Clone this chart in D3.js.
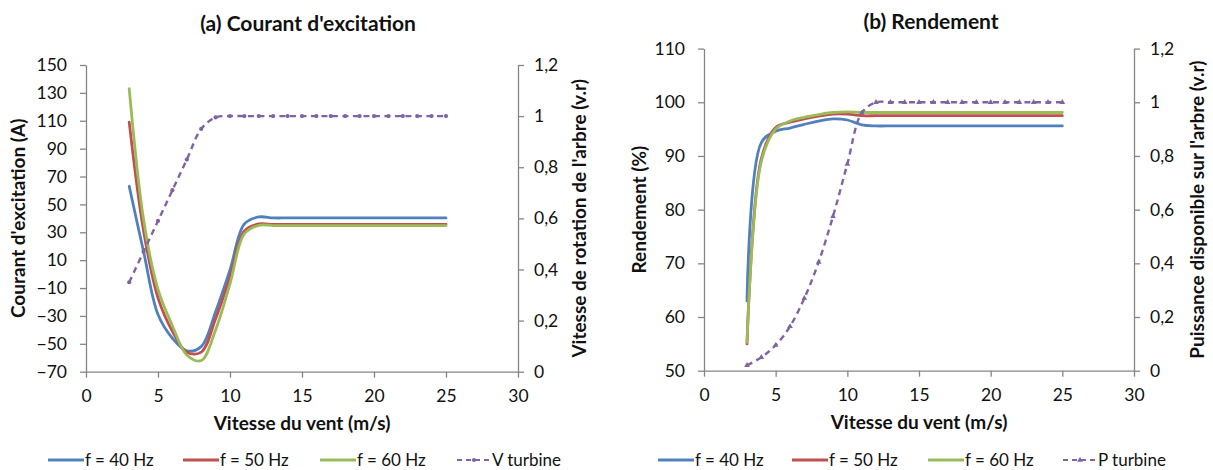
<!DOCTYPE html>
<html>
<head>
<meta charset="utf-8">
<script src="https://cdn.jsdelivr.net/npm/d3@7"></script>
<style>
  body { margin: 0; background: #ffffff; }
  svg { display: block; font-family: Lato, "Open Sans", sans-serif; }
</style>
</head>
<body>
<svg id="chart" width="1213" height="470"></svg>
<script>
// ---------- DATA ----------
const windSpeed = [3,4,5,6,7,8,9,10,11,12,13,14,15,16,17,18,19,20,21,22,23,24,25];

// (a) Courant d'excitation (A)
const courant40 = [63,16,-29,-46,-55,-52,-27,3,36,41,40.3,40.3,40.3,40.3,40.3,40.3,40.3,40.3,40.3,40.3,40.3,40.3,40.3];
const courant50 = [109,31,-17,-41,-56,-56,-32,-2,31,36,35.6,35.6,35.6,35.6,35.6,35.6,35.6,35.6,35.6,35.6,35.6,35.6,35.6];
const courant60 = [133,39,-11,-37,-58,-62,-40,-7,29,35,34.8,34.8,34.8,34.8,34.8,34.8,34.8,34.8,34.8,34.8,34.8,34.8,34.8];
const vTurbine  = [0.35,0.47,0.59,0.71,0.83,0.95,0.995,1,1,1,1,1,1,1,1,1,1,1,1,1,1,1,1];

// (b) Rendement (%)
const rendement40 = [63,92.5,94.6,95.2,95.9,96.5,96.9,96.7,95.8,95.6,95.6,95.6,95.6,95.6,95.6,95.6,95.6,95.6,95.6,95.6,95.6,95.6,95.6];
const rendement50 = [55,89.5,95.3,96.3,96.9,97.4,97.8,97.8,97.5,97.5,97.5,97.5,97.5,97.5,97.5,97.5,97.5,97.5,97.5,97.5,97.5,97.5,97.5];
const rendement60 = [55.3,89,95,96.5,97.2,97.7,98.1,98.2,98.1,98.1,98.1,98.1,98.1,98.1,98.1,98.1,98.1,98.1,98.1,98.1,98.1,98.1,98.1];
const pTurbine    = [0.02,0.05,0.095,0.165,0.27,0.405,0.575,0.77,0.96,1,1,1,1,1,1,1,1,1,1,1,1,1,1];

// Ticks / labels
const xTicks = [0,5,10,15,20,25,30];
const courantTicks = [-70,-50,-30,-10,10,30,50,70,90,110,130,150];
const rendementTicks = [50,60,70,80,90,100,110];
const rightTicks = [0,0.2,0.4,0.6,0.8,1,1.2];
const rightTickLabels = ["0","0,2","0,4","0,6","0,8","1","1,2"];

const seriesNames = ["f = 40 Hz","f = 50 Hz","f = 60 Hz"];
const colors = ["#4F81BD","#C0504D","#9BBB59"];
const purple = "#8064A2";

// ---------- DRAW ----------
const svg = d3.select("#chart");
const axisGrey = "#868686";
const textCol = "#111111";

function drawPanel(cfg) {
  const g = svg.append("g");
  const x = d3.scaleLinear().domain([0,30]).range([cfg.left, cfg.right]);
  const yL = d3.scaleLinear().domain(cfg.yDomain).range([cfg.bottom, cfg.top]);
  const yR = d3.scaleLinear().domain([0,1.2]).range([cfg.bottom, cfg.top]);

  // axes
  const ax = g.append("g").attr("transform", `translate(0,${cfg.bottom})`)
    .call(d3.axisBottom(x).tickValues(xTicks).tickSize(6).tickSizeOuter(0).tickPadding(12));
  const ayL = g.append("g").attr("transform", `translate(${cfg.left},0)`)
    .call(d3.axisLeft(yL).tickValues(cfg.yTicks).tickSize(6).tickSizeOuter(0).tickPadding(cfg.padL));
  const ayR = g.append("g").attr("transform", `translate(${cfg.right},0)`)
    .call(d3.axisRight(yR).tickValues(rightTicks).tickSize(6).tickSizeOuter(0).tickPadding(cfg.padR)
      .tickFormat((d,i) => rightTickLabels[i]));
  [ax, ayL, ayR].forEach(a => {
    a.select(".domain").attr("stroke", axisGrey).attr("stroke-width", 1.3);
    a.selectAll(".tick line").attr("stroke", axisGrey).attr("stroke-width", 1.3);
    a.selectAll(".tick text").attr("fill", textCol).style("font-size", "17.5px").style("font-family", "Lato, sans-serif");
  });

  // lines
  const lineL = d3.line().x((d,i) => x(windSpeed[i])).y(d => yL(d)).curve(d3.curveCatmullRom.alpha(0.5));
  const lineR = d3.line().x((d,i) => x(windSpeed[i])).y(d => yR(d)).curve(d3.curveCatmullRom.alpha(0.5));
  cfg.series.forEach((s, k) => {
    g.append("path").datum(s).attr("fill","none").attr("stroke", colors[k])
      .attr("stroke-width", 2.8).attr("stroke-linecap","round").attr("stroke-linejoin","round")
      .attr("d", lineL);
  });
  g.append("path").datum(cfg.turbine).attr("fill","none").attr("stroke", purple)
    .attr("stroke-width", 2.4).attr("stroke-dasharray","6,4.5")
    .attr("d", lineR);
  g.selectAll(".mk").data(cfg.turbine).enter().append("path")
    .attr("transform", (d,i) => `translate(${x(windSpeed[i])},${yR(d)})`)
    .attr("d", d3.symbol().type(cfg.marker).size(14))
    .attr("fill", purple);

  // titles
  g.append("text").attr("x", cfg.titleX).attr("y", cfg.titleY).attr("text-anchor","middle")
    .style("font-size","21px").style("font-weight","bold").attr("fill", textCol).text(cfg.title);
  g.append("text").attr("x", (cfg.left+cfg.right)/2).attr("y", cfg.bottom + 58).attr("text-anchor","middle")
    .style("font-size","19px").style("font-weight","bold").attr("fill", textCol).text("Vitesse du vent (m/s)");
  g.append("text").attr("transform", `translate(${cfg.yLabelLX},${(cfg.top+cfg.bottom)/2}) rotate(-90)`)
    .attr("text-anchor","middle").style("font-size","19px").style("font-weight","bold").attr("fill", textCol)
    .text(cfg.yLabelL);
  g.append("text").attr("transform", `translate(${cfg.yLabelRX},${(cfg.top+cfg.bottom)/2}) rotate(-90)`)
    .attr("text-anchor","middle").style("font-size","19px").style("font-weight","bold").attr("fill", textCol)
    .text(cfg.yLabelR);

  // legend
  const legY = 460;
  const names = seriesNames.concat([cfg.turbineName]);
  names.forEach((n, k) => {
    const lx = cfg.legendX[k];
    if (k < 3) {
      g.append("line").attr("x1", lx).attr("x2", lx+36).attr("y1", legY).attr("y2", legY)
        .attr("stroke", colors[k]).attr("stroke-width", 2.8);
    } else {
      g.append("line").attr("x1", lx).attr("x2", lx+34).attr("y1", legY).attr("y2", legY)
        .attr("stroke", purple).attr("stroke-width", 2.2).attr("stroke-dasharray","5,4");
      g.append("path").attr("transform", `translate(${lx+17},${legY})`)
        .attr("d", d3.symbol().type(cfg.marker).size(14)).attr("fill", purple);
    }
    g.append("text").attr("x", lx + (k<3?37:35)).attr("y", legY + 6)
      .style("font-size","17px").attr("fill", textCol).text(n);
  });
}

drawPanel({
  left: 86, right: 518, top: 65, bottom: 371.7,
  yDomain: [-70,150], yTicks: courantTicks, padL: 13, padR: 10,
  series: [courant40, courant50, courant60], turbine: vTurbine, turbineName: "V turbine",
  marker: d3.symbolCircle,
  title: "(a) Courant d'excitation", titleX: 308, titleY: 31,
  yLabelL: "Courant d'excitation (A)", yLabelLX: 25,
  yLabelR: "Vitesse de rotation de l'arbre (v.r)", yLabelRX: 586,
  legendX: [48, 183, 320, 457]
});

drawPanel({
  left: 704, right: 1134, top: 48.6, bottom: 370.7,
  yDomain: [50,110], yTicks: rendementTicks, padL: 13, padR: 10,
  series: [rendement40, rendement50, rendement60], turbine: pTurbine, turbineName: "P turbine",
  marker: d3.symbolTriangle,
  title: "(b) Rendement", titleX: 931, titleY: 29,
  yLabelL: "Rendement (%)", yLabelLX: 646,
  yLabelR: "Puissance disponible sur l'arbre (v.r)", yLabelRX: 1204,
  legendX: [658, 792, 928, 1063]
});
</script>
</body>
</html>
